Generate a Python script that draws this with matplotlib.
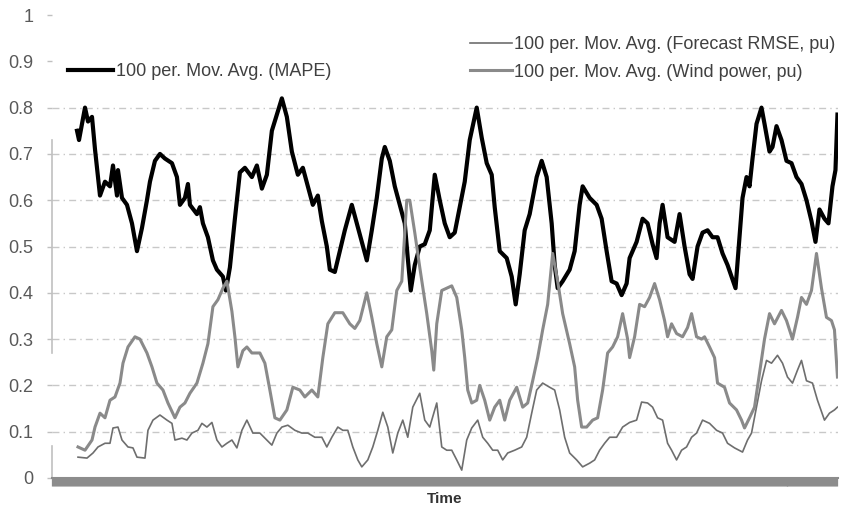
import numpy as np
import matplotlib
matplotlib.use('Agg')
import matplotlib.pyplot as plt

plt.rcParams['font.family'] = ['Liberation Sans', 'DejaVu Sans']

# --- data: 100-period moving averages ---
mape_t = [100, 108, 132, 144, 160, 172, 192, 212, 232, 244, 260, 264, 280, 300, 320, 340, 360, 380,
          392, 412, 432, 452, 480, 500, 512, 532, 544, 552, 580, 592, 604, 624, 644, 660, 684, 696,
          712, 732, 752, 772, 800, 820, 840, 860, 880, 900, 920, 940, 960, 984, 1004, 1024, 1044,
          1064, 1080, 1100, 1112, 1132, 1152, 1172, 1200, 1220, 1240, 1260, 1280, 1300, 1320, 1332,
          1352, 1372, 1392, 1412, 1424, 1436, 1452, 1472, 1492, 1512, 1532, 1552, 1572, 1592, 1612,
          1632, 1652, 1672, 1700, 1720, 1740, 1760, 1772, 1792, 1820, 1840, 1856, 1872, 1892, 1912,
          1940, 1960, 1980, 2000, 2012, 2024, 2044, 2072, 2092, 2112, 2124, 2152, 2180, 2200, 2220,
          2240, 2260, 2280, 2300, 2312, 2340, 2364, 2384, 2404, 2420, 2432, 2444, 2464, 2492, 2512,
          2532, 2552, 2564, 2584, 2604, 2624, 2644, 2664, 2684, 2704, 2720, 2736, 2752, 2764, 2780,
          2792, 2804, 2820, 2840, 2852, 2872, 2884, 2900, 2920, 2940, 2960, 2980, 3000, 3020, 3040,
          3056, 3072, 3092, 3108, 3124, 3136, 3144]
mape = [0.75, 0.73, 0.80, 0.77, 0.78, 0.71, 0.61, 0.64, 0.63, 0.675, 0.61, 0.665, 0.605, 0.59, 0.55,
        0.49, 0.54, 0.60, 0.64, 0.685, 0.70, 0.69, 0.68, 0.65, 0.59, 0.605, 0.635, 0.59, 0.57, 0.585,
        0.55, 0.52, 0.47, 0.45, 0.435, 0.405, 0.455, 0.56, 0.66, 0.67, 0.65, 0.675, 0.625, 0.655,
        0.75, 0.785, 0.82, 0.78, 0.705, 0.655, 0.67, 0.63, 0.59, 0.61, 0.555, 0.50, 0.45, 0.445,
        0.49, 0.535, 0.59, 0.55, 0.51, 0.47, 0.535, 0.605, 0.69, 0.715, 0.685, 0.63, 0.59, 0.55,
        0.475, 0.405, 0.46, 0.50, 0.505, 0.535, 0.655, 0.60, 0.55, 0.52, 0.53, 0.585, 0.64, 0.73,
        0.80, 0.735, 0.68, 0.655, 0.585, 0.49, 0.475, 0.435, 0.375, 0.44, 0.535, 0.57, 0.65, 0.685,
        0.65, 0.55, 0.46, 0.41, 0.425, 0.45, 0.49, 0.59, 0.63, 0.605, 0.59, 0.56, 0.49, 0.425, 0.42,
        0.395, 0.42, 0.475, 0.51, 0.56, 0.55, 0.505, 0.475, 0.55, 0.59, 0.52, 0.51, 0.57, 0.50, 0.44,
        0.43, 0.50, 0.53, 0.535, 0.52, 0.52, 0.485, 0.46, 0.435, 0.41, 0.52, 0.605, 0.65, 0.63, 0.69,
        0.765, 0.80, 0.765, 0.705, 0.715, 0.76, 0.73, 0.685, 0.68, 0.65, 0.635, 0.60, 0.555, 0.51,
        0.58, 0.56, 0.55, 0.63, 0.665, 0.785]

rmse_t = [104, 140, 164, 184, 212, 232, 244, 264, 280, 304, 324, 340, 372, 384, 404, 432, 460, 480,
          492, 520, 540, 560, 584, 600, 620, 640, 660, 680, 700, 720, 740, 760, 780, 804, 832, 860,
          880, 900, 920, 944, 972, 1000, 1024, 1052, 1080, 1100, 1120, 1144, 1164, 1184, 1204, 1224,
          1240, 1264, 1284, 1304, 1324, 1344, 1364, 1384, 1404, 1424, 1444, 1472, 1492, 1512, 1540,
          1560, 1580, 1600, 1620, 1640, 1660, 1680, 1704, 1724, 1744, 1764, 1784, 1804, 1824, 1852,
          1880, 1900, 1920, 1940, 1964, 1992, 2012, 2032, 2052, 2072, 2100, 2124, 2152, 2172, 2192,
          2212, 2232, 2260, 2284, 2312, 2340, 2360, 2384, 2404, 2424, 2444, 2464, 2480, 2500, 2520,
          2540, 2560, 2580, 2604, 2632, 2660, 2684, 2704, 2732, 2764, 2784, 2800, 2820, 2840, 2860,
          2880, 2904, 2924, 2944, 2964, 2984, 3000, 3020, 3044, 3064, 3092, 3112, 3132, 3144]
rmse = [0.045, 0.043, 0.054, 0.067, 0.075, 0.075, 0.108, 0.11, 0.082, 0.067, 0.065, 0.045, 0.043,
        0.103, 0.125, 0.136, 0.125, 0.118, 0.082, 0.086, 0.082, 0.097, 0.103, 0.118, 0.11, 0.12,
        0.082, 0.067, 0.075, 0.082, 0.065, 0.103, 0.125, 0.097, 0.097, 0.082, 0.071, 0.097, 0.11,
        0.114, 0.103, 0.097, 0.097, 0.088, 0.088, 0.067, 0.088, 0.11, 0.103, 0.103, 0.067, 0.039,
        0.024, 0.039, 0.067, 0.103, 0.142, 0.11, 0.054, 0.097, 0.125, 0.088, 0.153, 0.183, 0.125,
        0.11, 0.162, 0.067, 0.06, 0.06, 0.039, 0.017, 0.082, 0.108, 0.125, 0.088, 0.075, 0.06, 0.06,
        0.039, 0.054, 0.06, 0.067, 0.088, 0.14, 0.19, 0.205, 0.196, 0.19, 0.147, 0.088, 0.054, 0.039,
        0.024, 0.032, 0.039, 0.06, 0.075, 0.088, 0.088, 0.11, 0.12, 0.125, 0.164, 0.162, 0.153, 0.13,
        0.125, 0.075, 0.06, 0.039, 0.06, 0.067, 0.088, 0.097, 0.125, 0.118, 0.103, 0.097, 0.075,
        0.065, 0.056, 0.082, 0.097, 0.153, 0.21, 0.254, 0.248, 0.265, 0.248, 0.218, 0.205, 0.233,
        0.254, 0.21, 0.205, 0.168, 0.125, 0.14, 0.147, 0.153]

wind_t = [104, 132, 160, 172, 192, 212, 232, 252, 272, 284, 304, 332, 352, 380, 400, 420, 444, 464,
          492, 512, 532, 552, 580, 604, 624, 644, 664, 684, 700, 720, 732, 744, 764, 780, 800, 832,
          852, 872, 892, 912, 940, 964, 992, 1012, 1040, 1064, 1084, 1104, 1132, 1164, 1192, 1212,
          1232, 1260, 1280, 1300, 1320, 1340, 1360, 1380, 1400, 1420, 1432, 1452, 1472, 1500, 1520,
          1528, 1540, 1560, 1580, 1600, 1620, 1640, 1652, 1664, 1680, 1700, 1712, 1732, 1752, 1772,
          1792, 1812, 1832, 1860, 1884, 1904, 1924, 1944, 1964, 1984, 2004, 2024, 2044, 2072, 2092,
          2104, 2120, 2140, 2164, 2184, 2204, 2224, 2244, 2264, 2284, 2304, 2312, 2332, 2352, 2372,
          2392, 2412, 2432, 2452, 2464, 2480, 2500, 2524, 2544, 2560, 2580, 2600, 2612, 2632, 2652,
          2664, 2692, 2712, 2740, 2760, 2772, 2792, 2812, 2832, 2852, 2872, 2892, 2920, 2940, 2964,
          2984, 3000, 3020, 3040, 3060, 3080, 3100, 3120, 3132, 3144]
wind = [0.067, 0.06, 0.082, 0.11, 0.14, 0.13, 0.168, 0.175, 0.205, 0.248, 0.283, 0.305, 0.30, 0.27,
        0.24, 0.205, 0.19, 0.162, 0.13, 0.153, 0.162, 0.183, 0.205, 0.248, 0.29, 0.37, 0.385, 0.41,
        0.425, 0.36, 0.305, 0.24, 0.275, 0.283, 0.27, 0.27, 0.248, 0.19, 0.13, 0.125, 0.147, 0.196,
        0.19, 0.175, 0.19, 0.175, 0.26, 0.333, 0.357, 0.357, 0.333, 0.323, 0.34, 0.40, 0.347, 0.29,
        0.24, 0.305, 0.32, 0.405, 0.425, 0.60, 0.60, 0.53, 0.455, 0.355, 0.275, 0.233, 0.333, 0.405,
        0.41, 0.415, 0.39, 0.32, 0.26, 0.19, 0.162, 0.168, 0.20, 0.168, 0.125, 0.153, 0.168, 0.125,
        0.168, 0.196, 0.153, 0.162, 0.21, 0.26, 0.32, 0.375, 0.485, 0.425, 0.355, 0.29, 0.24, 0.168,
        0.11, 0.11, 0.125, 0.13, 0.19, 0.27, 0.283, 0.305, 0.355, 0.30, 0.26, 0.305, 0.375, 0.37,
        0.39, 0.42, 0.385, 0.34, 0.305, 0.333, 0.312, 0.305, 0.325, 0.355, 0.305, 0.30, 0.305, 0.283,
        0.26, 0.205, 0.196, 0.162, 0.147, 0.125, 0.108, 0.13, 0.153, 0.226, 0.30, 0.355, 0.333,
        0.362, 0.34, 0.30, 0.347, 0.39, 0.375, 0.405, 0.485, 0.41, 0.347, 0.34, 0.32, 0.218]

yticks = [0, 0.1, 0.2, 0.3, 0.4, 0.5, 0.6, 0.7, 0.8, 0.9, 1]
ytick_labels = ['0', '0.1', '0.2', '0.3', '0.4', '0.5', '0.6', '0.7', '0.8', '0.9', '1']
n_periods = 3146

fig = plt.figure(figsize=(8.46, 5.11), dpi=100)
fig.patch.set_facecolor('white')
ax = fig.add_axes([0.0615, 0.0646, 0.929, 0.906])

# grid lines (only 0.1 .. 0.8 are visible)
for y in yticks[1:9]:
    ax.axhline(y, color='#c8c8c8', lw=1.0, ls=(0, (5, 3, 1, 3)), zorder=1)

l_mape, = ax.plot(mape_t, mape, color='black', lw=3.0, zorder=3,
                  label='100 per. Mov. Avg. (MAPE)')
l_rmse, = ax.plot(rmse_t, rmse, color='#6e6e6e', lw=1.2, zorder=4,
                  label='100 per. Mov. Avg. (Forecast RMSE, pu)')
l_wind, = ax.plot(wind_t, wind, color='#8a8a8a', lw=2.2, zorder=5,
                  label='100 per. Mov. Avg. (Wind power, pu)')

ax.set_xlim(0, n_periods)
ax.set_ylim(0, 1)

# axes styling
for s in ['top', 'right', 'left']:
    ax.spines[s].set_visible(False)
ax.spines['bottom'].set_color('#8c8c8c')
ax.spines['bottom'].set_linewidth(1.5)
ax.axvline(0, ymin=0.27, ymax=0.73, color='#c0c0c0', lw=1.2, clip_on=False)
ax.axvline(0, ymin=0.0, ymax=0.07, color='#c0c0c0', lw=1.2, clip_on=False)

ax.set_yticks(yticks)
ax.set_yticklabels(ytick_labels)
ax.tick_params(axis='y', length=3.5, width=1, color='#c0c0c0', pad=10,
               labelsize=13, labelcolor='#595959')
ax.set_xticks(np.arange(0, n_periods, 4))
ax.set_xticklabels([])
ax.tick_params(axis='x', length=5.5, width=0.9, color='#8c8c8c', direction='out')

ax.set_xlabel('Time', fontsize=11, fontweight='bold', color='#333333', labelpad=1)

# legends
leg1 = ax.legend(handles=[l_mape], loc='center left', bbox_to_anchor=(0.02, 0.877),
                 frameon=False, fontsize=13, handlelength=2.5, handletextpad=0.15,
                 borderaxespad=0, borderpad=0, labelcolor='#404040')
ax.add_artist(leg1)
ax.legend(handles=[l_rmse, l_wind], loc='center left', bbox_to_anchor=(0.532, 0.906),
          frameon=False, fontsize=13, handlelength=2.3, handletextpad=0.15,
          borderaxespad=0, borderpad=0, labelspacing=0.58, labelcolor='#404040')

plt.savefig('out.png', dpi=100, facecolor='white')
